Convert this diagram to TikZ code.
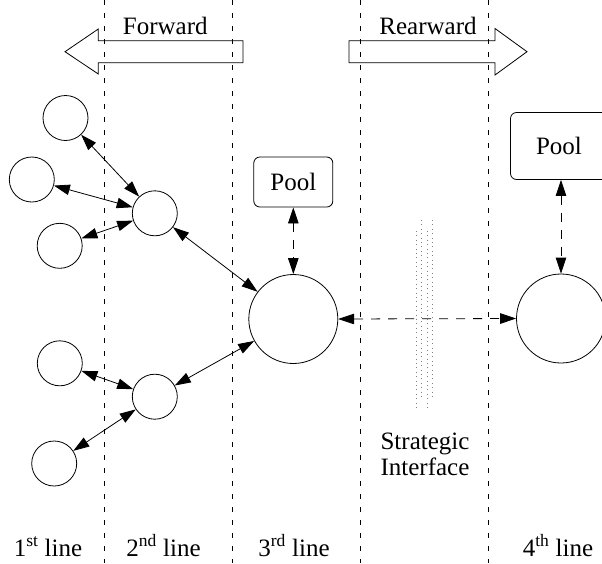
\documentclass[tikz,border=0pt]{standalone}
\usepackage{fontspec}
\setmainfont{Liberation Serif}
\usetikzlibrary{arrows.meta}
\begin{document}
\begin{tikzpicture}[x=1pt,y=-1pt,
  every node/.style={font=\fontsize{25}{26}\selectfont},
  agent/.style={circle, draw, line width=0.8pt, inner sep=0pt, minimum size=45pt},
  hub/.style={circle, draw, line width=0.8pt, inner sep=0pt, minimum size=89pt},
  pool/.style={draw, rounded corners=6pt, line width=0.8pt, inner sep=0pt},
  link/.style={line width=0.8pt, {Triangle[length=16pt,width=10.5pt]}-{Triangle[length=16pt,width=10.5pt]}},
  dlink/.style={link, dash pattern=on 9pt off 8pt},
  divider/.style={line width=0.8pt, dash pattern=on 5pt off 8pt},
  fat/.style={draw, line width=0.8pt, line join=miter},
  interface/.style={gray, line width=0.8pt, dash pattern=on 1pt off 3.4pt},
  txt/.style={anchor=base, inner sep=0pt}
]
\useasboundingbox (0,0) rectangle (602,563);
\clip (0,0) rectangle (602,563);

% column dividers
\foreach \x in {104,232,360,488}
  \draw[divider] (\x,0) -- (\x,563);

% direction arrows
\draw[fat] (243,40.7) -- (98.3,40.7) -- (98.3,29) -- (65,51.7) -- (98.3,74)
  -- (98.3,62.7) -- (243,62.7) -- cycle;
\draw[fat] (349,40.7) -- (495,40.7) -- (495,28.5) -- (527,51.7) -- (495,75)
  -- (495,62.7) -- (349,62.7) -- cycle;
\node[txt] (fwd) at (165.3,34.3) {Forward};
\node[txt] (rwd) at (428,34.3) {Rearward};

% agents
\node[agent] (a1) at (65.5,118) {};
\node[agent] (a2) at (31.8,179.5) {};
\node[agent] (a3) at (59.7,245.8) {};
\node[agent] (a4) at (59.8,363.3) {};
\node[agent] (a5) at (54.2,463.5) {};
\node[agent] (b1) at (154.8,213.3) {};
\node[agent] (b2) at (154.8,396.7) {};
\node[hub] (c) at (293.3,319) {};
\node[hub] (d) at (561,318.5) {};

% pools
\node[pool, minimum width=79pt, minimum height=50pt] (p3) at (293.3,182) {Pool};
\node[pool, minimum width=97pt, minimum height=67pt] (p4) at (559,146) {Pool};

% links
\draw[link] (a1) -- (b1);
\draw[link] (a2) -- (b1);
\draw[link] (a3) -- (b1);
\draw[link] (a4) -- (b2);
\draw[link] (a5) -- (b2);
\draw[link] (b1) -- (c);
\draw[link] (b2) -- (c);
\draw[dlink] (p3.south -| c.north) -- (c.north);
\draw[dlink] (d.north |- p4.south) -- (d.north);
\draw[dlink] (c.east) -- (d.west);

% strategic interface
\draw[interface] (416,231) -- (416,411);
\draw[interface] (421.7,220) -- (421.7,399);
\draw[interface] (427.3,231) -- (427.3,411);
\draw[interface] (432.7,220) -- (432.7,399);
\node[align=center, inner sep=0pt] (si) at (425,454) {Strategic\\Interface};

% column captions
\node[txt] (l1) at (48,556) {1\textsuperscript{st} line};
\node[txt] (l2) at (163.5,556) {2\textsuperscript{nd} line};
\node[txt] (l3) at (294,556) {3\textsuperscript{rd} line};
\node[txt] (l4) at (558,556) {4\textsuperscript{th} line};
\end{tikzpicture}
\end{document}
